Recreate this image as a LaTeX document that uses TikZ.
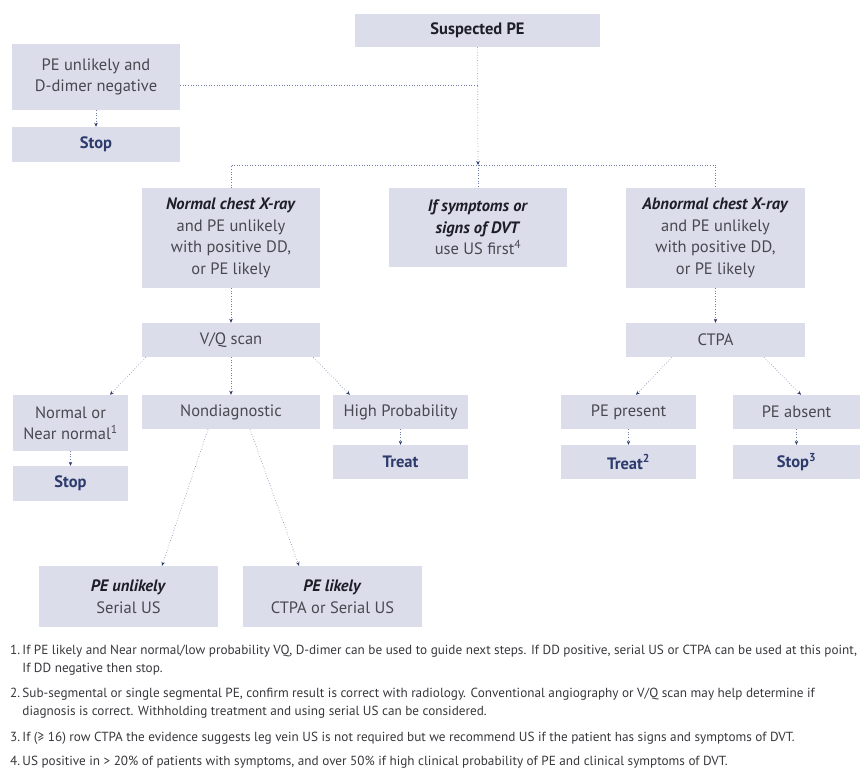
\documentclass[tikz,border=0pt]{standalone}
\usepackage{fontspec}
\setmainfont{PT Sans}
\usetikzlibrary{arrows.meta}

\definecolor{boxfill}{RGB}{220,221,234}
\definecolor{boxtext}{RGB}{72,72,80}
\definecolor{headtext}{RGB}{30,30,40}
\definecolor{stoptext}{RGB}{44,58,108}
\definecolor{linkcol}{RGB}{110,125,165}
\definecolor{notetext}{RGB}{55,55,60}

\newcommand\boxfont{\fontsize{16.5}{21.5}\selectfont}
\newcommand\notefont{\fontsize{13.2}{18}\selectfont}

\begin{document}
\begin{tikzpicture}[x=1pt,y=-1pt,
  box/.style={fill=boxfill, inner sep=0pt, align=center, text=boxtext, font=\boxfont},
  endbox/.style={box, text=stoptext, font=\boxfont\bfseries},
  link/.style={draw=linkcol, dotted, line width=0.6pt},
  arr/.style={link, -{Stealth[length=4pt,width=3.5pt,color=stoptext]}},
  note/.style={anchor=north west, inner sep=0pt, align=left, text=notetext, font=\notefont}]
\useasboundingbox (0,0) rectangle (860,769);

% Top of the chart
\node[box, minimum width=245, minimum height=33, text=headtext, font=\boxfont\bfseries] (susp) at (477.5,30.5) {Suspected PE};
\node[box, minimum width=168, minimum height=66] (unlik) at (96,77) {PE unlikely and\\D-dimer negative};
\node[endbox, minimum width=168, minimum height=35] (stopa) at (96,144.5) {Stop};
\coordinate (hub) at (478,165);

% Second row
\node[box, minimum width=178, minimum height=100] (ncxr) at (231,238) {\textcolor{headtext}{\textbf{\textit{Normal chest X-ray}}}\\and PE unlikely\\with positive DD,\\or PE likely};
\node[box, minimum width=178, minimum height=79] (dvt) at (478,227.5) {\textcolor{headtext}{\textbf{\textit{If symptoms or}}}\\\textcolor{headtext}{\textbf{\textit{signs of DVT}}}\\use US first\textsuperscript{4}};
\node[box, minimum width=179, minimum height=100] (acxr) at (715.5,238) {\textcolor{headtext}{\textbf{\textit{Abnormal chest X-ray}}}\\and PE unlikely\\with positive DD,\\or PE likely};

% Scans
\node[box, minimum width=178, minimum height=34] (vq) at (231,340) {V/Q scan};
\node[box, minimum width=179, minimum height=34] (ctpa) at (715.5,340) {CTPA};

% Results
\node[box, minimum width=115, minimum height=56] (nnorm) at (70.5,423) {Normal or\\Near normal\textsuperscript{1}};
\node[endbox, minimum width=115, minimum height=35] (stopb) at (70.5,483.5) {Stop};
\node[box, minimum width=178, minimum height=34] (nondiag) at (231,412) {Nondiagnostic};
\node[box, minimum width=135, minimum height=34] (highp) at (400.5,412) {High Probability};
\node[endbox, minimum width=135, minimum height=34] (treata) at (400.5,462) {Treat};
\node[box, minimum width=135, minimum height=34] (present) at (628.5,412) {PE present};
\node[endbox, minimum width=135, minimum height=34] (treatb) at (628.5,462) {Treat\textsuperscript{2}};
\node[box, minimum width=127, minimum height=34] (absent) at (796.5,412) {PE absent};
\node[endbox, minimum width=127, minimum height=34] (stopc) at (796.5,462) {Stop\textsuperscript{3}};
\node[box, minimum width=179, minimum height=61] (peun) at (128.5,596.5) {\textcolor{headtext}{\textbf{\textit{PE unlikely}}}\\Serial US};
\node[box, minimum width=179, minimum height=61] (pelik) at (332.5,596.5) {\textcolor{headtext}{\textbf{\textit{PE likely}}}\\CTPA or Serial US};

% Connectors
\draw[arr] (susp) -- (hub);
\draw[link] ([yshift=-8]unlik.east) -- ([yshift=-8]unlik.east -| hub);
\draw[arr] (unlik) -- (stopa);
\draw[link] (ncxr.north) |- (hub) -| (acxr.north);
\draw[link] (hub) -- (dvt.north);
\draw[arr] (ncxr) -- (vq);
\draw[arr] (acxr) -- (ctpa);
\draw[arr] ([xshift=4]vq.south west) -- ([xshift=39.5]nnorm.north);
\draw[arr] (vq) -- (nondiag);
\draw[arr] ([xshift=-7]vq.south east) -- ([xshift=17]highp.north west);
\draw[arr] (nnorm) -- (stopb);
\draw[arr] (highp) -- (treata);
\draw[arr] ([xshift=-23]nondiag.south) -- ([xshift=33.5]peun.north);
\draw[arr] ([xshift=19]nondiag.south) -- ([xshift=-33.5]pelik.north);
\draw[arr] ([xshift=-43.5]ctpa.south) -- ([xshift=7.5]present.north);
\draw[arr] ([xshift=48.5]ctpa.south) -- ([xshift=4.5]absent.north);
\draw[arr] (present) -- (treatb);
\draw[arr] (absent) -- (stopc);

% Footnotes
\node[note] (fn1) at (10,645) {1.\,If PE likely and Near normal/low probability VQ, D-dimer can be used to guide next steps. If DD positive, serial US or CTPA can be used at this point,\\\phantom{1.\,}If DD negative then stop.};
\node[note] (fn2) at (10,688) {2.\,Sub-segmental or single segmental PE, confirm result is correct with radiology. Conventional angiography or V/Q scan may help determine if\\\phantom{2.\,}diagnosis is correct. Withholding treatment and using serial US can be considered.};
\node[note] (fn3) at (10,732) {3.\,If (≥ 16) row CTPA the evidence suggests leg vein US is not required but we recommend US if the patient has signs and symptoms of DVT.};
\node[note] (fn4) at (10,756) {4.\,US positive in > 20\% of patients with symptoms, and over 50\% if high clinical probability of PE and clinical symptoms of DVT.};
\end{tikzpicture}
\end{document}
